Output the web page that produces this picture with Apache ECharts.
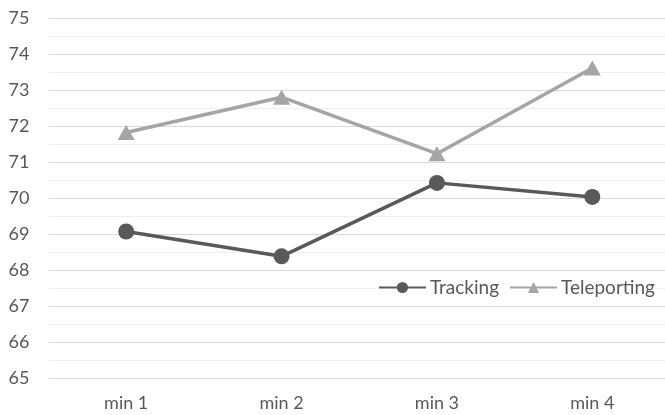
<!DOCTYPE html>
<html>
<head>
<meta charset="utf-8">
<script src="https://cdn.jsdelivr.net/npm/echarts@6/dist/echarts.min.js"></script>
<style>
  html, body { margin: 0; padding: 0; background: #fff; overflow: hidden; }
  /* the plot area runs a few pixels past the right edge of the window */
  #chart { width: 670px; height: 415px; }
</style>
</head>
<body>
<div id="chart"></div>
<script>
// Minutes along the x axis
const categories = ['min 1', 'min 2', 'min 3', 'min 4'];

// Mean scores per condition
const tracking = [69.07, 68.38, 70.42, 70.03];
const teleporting = [71.82, 72.8, 71.23, 73.61];

// Value axis range
const yMin = 65;
const yMax = 75;
const yStep = 1;

const textColor = '#595959';
const fontFamily = 'Lato, Open Sans, sans-serif';

const chart = echarts.init(document.getElementById('chart'));
chart.setOption({
  animation: false,
  backgroundColor: '#ffffff',
  textStyle: { fontFamily: fontFamily, color: textColor },
  grid: { left: 48.5, right: 0, top: 18, bottom: 37, containLabel: false },
  legend: {
    data: ['Tracking', 'Teleporting'],
    right: 13,
    top: 277,
    itemWidth: 47,
    itemHeight: 14,
    itemGap: 10,
    padding: [1, 2],
    backgroundColor: '#ffffff',
    textStyle: { fontSize: 19, color: textColor, fontFamily: fontFamily, padding: [0, 0, 0, -1] }
  },
  xAxis: {
    type: 'category',
    data: categories,
    boundaryGap: true,
    axisLine: { show: false },
    axisTick: { show: false },
    axisLabel: { fontSize: 18, color: textColor, margin: 16, fontFamily: fontFamily },
    splitLine: { show: false }
  },
  yAxis: {
    type: 'value',
    min: yMin,
    max: yMax,
    interval: yStep,
    axisLine: { show: false },
    axisTick: { show: false },
    axisLabel: { fontSize: 18, color: textColor, margin: 19, fontFamily: fontFamily },
    splitLine: { show: true, lineStyle: { color: '#d9d9d9', width: 1 } },
    minorTick: { show: false, splitNumber: 2 },
    minorSplitLine: { show: true, lineStyle: { color: '#f0f0f0', width: 1 } }
  },
  series: [
    {
      name: 'Tracking',
      type: 'line',
      data: tracking,
      symbol: 'circle',
      symbolSize: 16,
      lineStyle: { color: '#595959', width: 3.5 },
      itemStyle: { color: '#595959' },
      z: 3
    },
    {
      name: 'Teleporting',
      type: 'line',
      data: teleporting,
      symbol: 'triangle',
      symbolSize: [17, 15],
      lineStyle: { color: '#a5a5a5', width: 3.5 },
      itemStyle: { color: '#a5a5a5' },
      z: 2
    }
  ]
});
</script>
</body>
</html>
